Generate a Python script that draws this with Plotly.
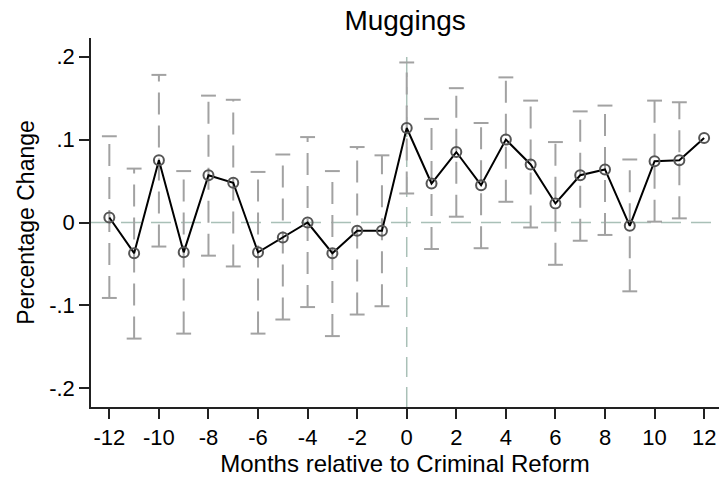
import plotly.graph_objects as go

months = [-12, -11, -10, -9, -8, -7, -6, -5, -4, -3, -2, -1, 0,
          1, 2, 3, 4, 5, 6, 7, 8, 9, 10, 11, 12]
estimate = [0.006, -0.037, 0.075, -0.036, 0.057, 0.048, -0.036, -0.018, 0.000, -0.037, -0.010, -0.010, 0.114,
            0.047, 0.085, 0.045, 0.100, 0.070, 0.023, 0.057, 0.064, -0.004, 0.074, 0.075, 0.102]
ci_low = [-0.091, -0.140, -0.029, -0.134, -0.040, -0.053, -0.134, -0.117, -0.102, -0.137, -0.111, -0.101, 0.035,
          -0.032, 0.007, -0.031, 0.025, -0.006, -0.051, -0.022, -0.015, -0.083, 0.001, 0.005, None]
ci_high = [0.104, 0.065, 0.178, 0.062, 0.153, 0.148, 0.061, 0.082, 0.103, 0.062, 0.091, 0.081, 0.193,
           0.125, 0.162, 0.120, 0.175, 0.147, 0.097, 0.134, 0.141, 0.076, 0.147, 0.145, None]
x_ticks = list(range(-12, 13, 2))
x_tick_labels = ["-12", "-10", "-8", "-6", "-4", "-2", "0", "2", "4", "6", "8", "10", "12"]
y_ticks = [-0.2, -0.1, 0, 0.1, 0.2]
y_tick_labels = ["-.2", "-.1", "0", ".1", ".2"]

CAP = 0.3
BAR_COLOR = "#a2a2a2"
REF_COLOR = "#a9c0b7"
FONT = "Liberation Sans, Arial, Helvetica, sans-serif"

# build error bar segments
vx, vy, cx, cy = [], [], [], []
for m, lo, hi in zip(months, ci_low, ci_high):
    if lo is None or hi is None:
        continue
    vx += [m, m, None]
    vy += [lo, hi, None]
    cx += [m - CAP, m + CAP, None, m - CAP, m + CAP, None]
    cy += [lo, lo, None, hi, hi, None]

fig = go.Figure()
fig.add_trace(go.Scatter(x=vx, y=vy, mode="lines",
                         line=dict(color=BAR_COLOR, width=2, dash="22px,11px"),
                         hoverinfo="skip", showlegend=False))
fig.add_trace(go.Scatter(x=cx, y=cy, mode="lines",
                         line=dict(color=BAR_COLOR, width=2),
                         hoverinfo="skip", showlegend=False))

# reference lines
fig.add_shape(type="line", xref="x domain", yref="y", x0=0, x1=1, y0=0, y1=0,
              line=dict(color=REF_COLOR, width=1.5, dash="20px,10px"), layer="below")
fig.add_shape(type="line", xref="x", yref="y domain", x0=0, x1=0, y0=0, y1=0.97,
              line=dict(color=REF_COLOR, width=1.5, dash="20px,10px"), layer="below")

fig.add_trace(go.Scatter(x=months, y=estimate, mode="lines+markers",
                         line=dict(color="black", width=2),
                         marker=dict(symbol="circle", size=10, color="rgba(0,0,0,0)",
                                     line=dict(color="#555555", width=2)),
                         showlegend=False))

fig.update_layout(
    width=719, height=478,
    margin=dict(l=91, r=0, t=38, b=71),
    paper_bgcolor="white", plot_bgcolor="white",
    font=dict(family=FONT, color="black", size=22),
    title=dict(text="Muggings", x=0.5634, xanchor="center", y=0.957, yanchor="middle",
               font=dict(size=28, family=FONT, color="black")),
)
fig.update_xaxes(range=[-12.74, 12.6], tickvals=x_ticks, ticktext=x_tick_labels,
                 ticks="outside", ticklen=10,
                 tickwidth=1.5, tickcolor="#222", showline=True, linecolor="#222", linewidth=1.5,
                 showgrid=False, zeroline=False,
                 title=dict(text="Months relative to Criminal Reform", font=dict(size=24), standoff=4),
                 tickfont=dict(size=22))
fig.update_yaxes(range=[-0.2225, 0.2225], tickvals=y_ticks, ticktext=y_tick_labels,
                 ticks="outside", ticklen=10, tickwidth=1.5, tickcolor="#222",
                 showline=True, linecolor="#222", linewidth=1.5,
                 showgrid=False, zeroline=False,
                 title=dict(text="Percentage Change", font=dict(size=23), standoff=8),
                 tickfont=dict(size=22))

fig.write_html("out.html")
